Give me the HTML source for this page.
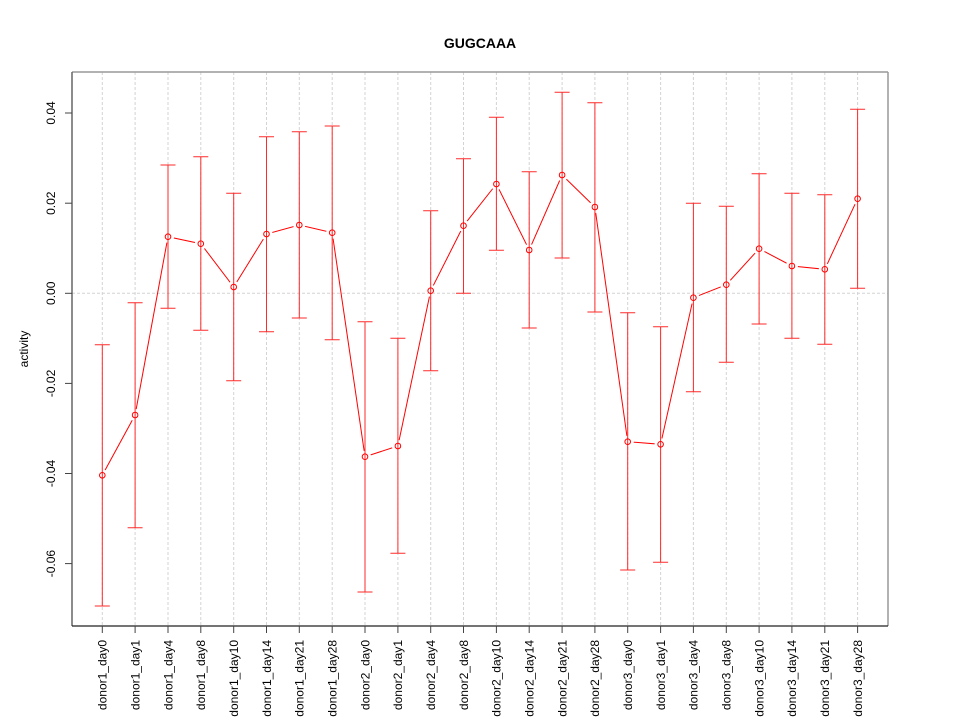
<!DOCTYPE html>
<html><head><meta charset="utf-8"><style>
html,body{margin:0;padding:0;background:#fff;}
svg{display:block;}
text{font-family:"Liberation Sans",Arial,sans-serif;}
</style></head><body>
<svg width="960" height="720" viewBox="0 0 960 720" xmlns="http://www.w3.org/2000/svg">
<rect width="960" height="720" fill="#fff"/>
<text x="480" y="48" font-size="14" font-weight="bold" text-anchor="middle">GUGCAAA</text>
<!-- grid -->
<g stroke="#d3d3d3" stroke-width="1" stroke-dasharray="3,2">
<line x1="102.3" y1="72" x2="102.3" y2="626"/><line x1="135.1" y1="72" x2="135.1" y2="626"/><line x1="168" y1="72" x2="168" y2="626"/><line x1="200.8" y1="72" x2="200.8" y2="626"/><line x1="233.7" y1="72" x2="233.7" y2="626"/><line x1="266.5" y1="72" x2="266.5" y2="626"/><line x1="299.3" y1="72" x2="299.3" y2="626"/><line x1="332.2" y1="72" x2="332.2" y2="626"/><line x1="365" y1="72" x2="365" y2="626"/><line x1="397.9" y1="72" x2="397.9" y2="626"/><line x1="430.7" y1="72" x2="430.7" y2="626"/><line x1="463.5" y1="72" x2="463.5" y2="626"/><line x1="496.4" y1="72" x2="496.4" y2="626"/><line x1="529.2" y1="72" x2="529.2" y2="626"/><line x1="562.1" y1="72" x2="562.1" y2="626"/><line x1="594.9" y1="72" x2="594.9" y2="626"/><line x1="627.7" y1="72" x2="627.7" y2="626"/><line x1="660.6" y1="72" x2="660.6" y2="626"/><line x1="693.4" y1="72" x2="693.4" y2="626"/><line x1="726.3" y1="72" x2="726.3" y2="626"/><line x1="759.1" y1="72" x2="759.1" y2="626"/><line x1="791.9" y1="72" x2="791.9" y2="626"/><line x1="824.8" y1="72" x2="824.8" y2="626"/><line x1="857.6" y1="72" x2="857.6" y2="626"/>
<line x1="72" y1="293.3" x2="888" y2="293.3"/>
</g>
<!-- frame -->
<line x1="72" y1="72" x2="888" y2="72" stroke="#999" stroke-width="1.5"/>
<line x1="888" y1="72" x2="888" y2="626" stroke="#999" stroke-width="1.5"/>
<line x1="72" y1="72" x2="72" y2="626" stroke="#666" stroke-width="1.5"/>
<line x1="72" y1="626" x2="888" y2="626" stroke="#222" stroke-width="1.2"/>
<!-- y ticks -->
<g stroke="#444" stroke-width="1">
<line x1="65" y1="113" x2="72" y2="113"/><line x1="65" y1="203.2" x2="72" y2="203.2"/><line x1="65" y1="293.3" x2="72" y2="293.3"/><line x1="65" y1="383.4" x2="72" y2="383.4"/><line x1="65" y1="473.5" x2="72" y2="473.5"/><line x1="65" y1="563.6" x2="72" y2="563.6"/>
</g>
<g font-size="12" text-anchor="middle" fill="#000">
<text transform="translate(55,113) rotate(-90)">0.04</text>
<text transform="translate(55,203.2) rotate(-90)">0.02</text>
<text transform="translate(55,293.3) rotate(-90)">0.00</text>
<text transform="translate(55,383.4) rotate(-90)">-0.02</text>
<text transform="translate(55,473.5) rotate(-90)">-0.04</text>
<text transform="translate(55,563.6) rotate(-90)">-0.06</text>
<text transform="translate(28,349) rotate(-90)">activity</text>
</g>
<!-- x ticks -->
<g stroke="#444" stroke-width="1">
<line x1="102.3" y1="626" x2="102.3" y2="633"/><line x1="135.1" y1="626" x2="135.1" y2="633"/><line x1="168" y1="626" x2="168" y2="633"/><line x1="200.8" y1="626" x2="200.8" y2="633"/><line x1="233.7" y1="626" x2="233.7" y2="633"/><line x1="266.5" y1="626" x2="266.5" y2="633"/><line x1="299.3" y1="626" x2="299.3" y2="633"/><line x1="332.2" y1="626" x2="332.2" y2="633"/><line x1="365" y1="626" x2="365" y2="633"/><line x1="397.9" y1="626" x2="397.9" y2="633"/><line x1="430.7" y1="626" x2="430.7" y2="633"/><line x1="463.5" y1="626" x2="463.5" y2="633"/><line x1="496.4" y1="626" x2="496.4" y2="633"/><line x1="529.2" y1="626" x2="529.2" y2="633"/><line x1="562.1" y1="626" x2="562.1" y2="633"/><line x1="594.9" y1="626" x2="594.9" y2="633"/><line x1="627.7" y1="626" x2="627.7" y2="633"/><line x1="660.6" y1="626" x2="660.6" y2="633"/><line x1="693.4" y1="626" x2="693.4" y2="633"/><line x1="726.3" y1="626" x2="726.3" y2="633"/><line x1="759.1" y1="626" x2="759.1" y2="633"/><line x1="791.9" y1="626" x2="791.9" y2="633"/><line x1="824.8" y1="626" x2="824.8" y2="633"/><line x1="857.6" y1="626" x2="857.6" y2="633"/>
</g>
<g font-size="12" text-anchor="end" fill="#000">
<text transform="translate(106.6,640) rotate(-90)">donor1_day0</text>
<text transform="translate(139.4,640) rotate(-90)">donor1_day1</text>
<text transform="translate(172.3,640) rotate(-90)">donor1_day4</text>
<text transform="translate(205.1,640) rotate(-90)">donor1_day8</text>
<text transform="translate(238,640) rotate(-90)">donor1_day10</text>
<text transform="translate(270.8,640) rotate(-90)">donor1_day14</text>
<text transform="translate(303.6,640) rotate(-90)">donor1_day21</text>
<text transform="translate(336.5,640) rotate(-90)">donor1_day28</text>
<text transform="translate(369.3,640) rotate(-90)">donor2_day0</text>
<text transform="translate(402.2,640) rotate(-90)">donor2_day1</text>
<text transform="translate(435,640) rotate(-90)">donor2_day4</text>
<text transform="translate(467.8,640) rotate(-90)">donor2_day8</text>
<text transform="translate(500.7,640) rotate(-90)">donor2_day10</text>
<text transform="translate(533.5,640) rotate(-90)">donor2_day14</text>
<text transform="translate(566.4,640) rotate(-90)">donor2_day21</text>
<text transform="translate(599.2,640) rotate(-90)">donor2_day28</text>
<text transform="translate(632,640) rotate(-90)">donor3_day0</text>
<text transform="translate(664.9,640) rotate(-90)">donor3_day1</text>
<text transform="translate(697.7,640) rotate(-90)">donor3_day4</text>
<text transform="translate(730.6,640) rotate(-90)">donor3_day8</text>
<text transform="translate(763.4,640) rotate(-90)">donor3_day10</text>
<text transform="translate(796.2,640) rotate(-90)">donor3_day14</text>
<text transform="translate(829.1,640) rotate(-90)">donor3_day21</text>
<text transform="translate(861.9,640) rotate(-90)">donor3_day28</text>
</g>
<!-- mask for connecting line gaps -->
<mask id="gap" maskUnits="userSpaceOnUse" x="0" y="0" width="960" height="720">
<rect width="960" height="720" fill="#fff"/>
<g fill="#000">
<circle cx="102.3" cy="475.3" r="6"/><circle cx="135.1" cy="415" r="6"/><circle cx="168" cy="236.7" r="6"/><circle cx="200.8" cy="243.7" r="6"/><circle cx="233.7" cy="287" r="6"/><circle cx="266.5" cy="234" r="6"/><circle cx="299.3" cy="225" r="6"/><circle cx="332.2" cy="232.7" r="6"/><circle cx="365" cy="456.7" r="6"/><circle cx="397.9" cy="446" r="6"/><circle cx="430.7" cy="290.7" r="6"/><circle cx="463.5" cy="225.7" r="6"/><circle cx="496.4" cy="184" r="6"/><circle cx="529.2" cy="250" r="6"/><circle cx="562.1" cy="175" r="6"/><circle cx="594.9" cy="207" r="6"/><circle cx="627.7" cy="441.7" r="6"/><circle cx="660.6" cy="444.3" r="6"/><circle cx="693.4" cy="297.7" r="6"/><circle cx="726.3" cy="284.7" r="6"/><circle cx="759.1" cy="248.7" r="6"/><circle cx="791.9" cy="266" r="6"/><circle cx="824.8" cy="269.3" r="6"/><circle cx="857.6" cy="198.7" r="6"/>
</g>
</mask>
<polyline mask="url(#gap)" fill="none" stroke="#ff0000" stroke-width="1" points="102.3,475.3 135.1,415 168,236.7 200.8,243.7 233.7,287 266.5,234 299.3,225 332.2,232.7 365,456.7 397.9,446 430.7,290.7 463.5,225.7 496.4,184 529.2,250 562.1,175 594.9,207 627.7,441.7 660.6,444.3 693.4,297.7 726.3,284.7 759.1,248.7 791.9,266 824.8,269.3 857.6,198.7"/>
<!-- error bars -->
<g stroke="#ff2a2a" stroke-width="1" fill="none">
<path d="M102.3,344.7V606M94.8,344.7H109.8M94.8,606H109.8"/>
<path d="M135.1,302.7V527.7M127.6,302.7H142.6M127.6,527.7H142.6"/>
<path d="M168,165V308.3M160.5,165H175.5M160.5,308.3H175.5"/>
<path d="M200.8,156.7V330.3M193.3,156.7H208.3M193.3,330.3H208.3"/>
<path d="M233.7,193.3V380.7M226.2,193.3H241.2M226.2,380.7H241.2"/>
<path d="M266.5,136.7V331.7M259,136.7H274M259,331.7H274"/>
<path d="M299.3,131.7V318M291.8,131.7H306.8M291.8,318H306.8"/>
<path d="M332.2,126V339.7M324.7,126H339.7M324.7,339.7H339.7"/>
<path d="M365,321.7V592M357.5,321.7H372.5M357.5,592H372.5"/>
<path d="M397.9,338.3V553.3M390.4,338.3H405.4M390.4,553.3H405.4"/>
<path d="M430.7,210.7V370.7M423.2,210.7H438.2M423.2,370.7H438.2"/>
<path d="M463.5,158.7V293.3M456,158.7H471M456,293.3H471"/>
<path d="M496.4,117.3V250.3M488.9,117.3H503.9M488.9,250.3H503.9"/>
<path d="M529.2,171.7V328M521.7,171.7H536.7M521.7,328H536.7"/>
<path d="M562.1,92.3V258M554.6,92.3H569.6M554.6,258H569.6"/>
<path d="M594.9,102.7V312M587.4,102.7H602.4M587.4,312H602.4"/>
<path d="M627.7,312.7V570M620.2,312.7H635.2M620.2,570H635.2"/>
<path d="M660.6,326.7V562.3M653.1,326.7H668.1M653.1,562.3H668.1"/>
<path d="M693.4,203.3V391.7M685.9,203.3H700.9M685.9,391.7H700.9"/>
<path d="M726.3,206.3V362.3M718.8,206.3H733.8M718.8,362.3H733.8"/>
<path d="M759.1,173.7V324M751.6,173.7H766.6M751.6,324H766.6"/>
<path d="M791.9,193.3V338.3M784.4,193.3H799.4M784.4,338.3H799.4"/>
<path d="M824.8,194.7V344.3M817.3,194.7H832.3M817.3,344.3H832.3"/>
<path d="M857.6,109.3V288.3M850.1,109.3H865.1M850.1,288.3H865.1"/>
</g>
<!-- points -->
<g stroke="#ff0000" stroke-width="1" fill="none">
<circle cx="102.3" cy="475.3" r="2.8"/><circle cx="135.1" cy="415" r="2.8"/><circle cx="168" cy="236.7" r="2.8"/><circle cx="200.8" cy="243.7" r="2.8"/><circle cx="233.7" cy="287" r="2.8"/><circle cx="266.5" cy="234" r="2.8"/><circle cx="299.3" cy="225" r="2.8"/><circle cx="332.2" cy="232.7" r="2.8"/><circle cx="365" cy="456.7" r="2.8"/><circle cx="397.9" cy="446" r="2.8"/><circle cx="430.7" cy="290.7" r="2.8"/><circle cx="463.5" cy="225.7" r="2.8"/><circle cx="496.4" cy="184" r="2.8"/><circle cx="529.2" cy="250" r="2.8"/><circle cx="562.1" cy="175" r="2.8"/><circle cx="594.9" cy="207" r="2.8"/><circle cx="627.7" cy="441.7" r="2.8"/><circle cx="660.6" cy="444.3" r="2.8"/><circle cx="693.4" cy="297.7" r="2.8"/><circle cx="726.3" cy="284.7" r="2.8"/><circle cx="759.1" cy="248.7" r="2.8"/><circle cx="791.9" cy="266" r="2.8"/><circle cx="824.8" cy="269.3" r="2.8"/><circle cx="857.6" cy="198.7" r="2.8"/>
</g>
</svg>
</body></html>
